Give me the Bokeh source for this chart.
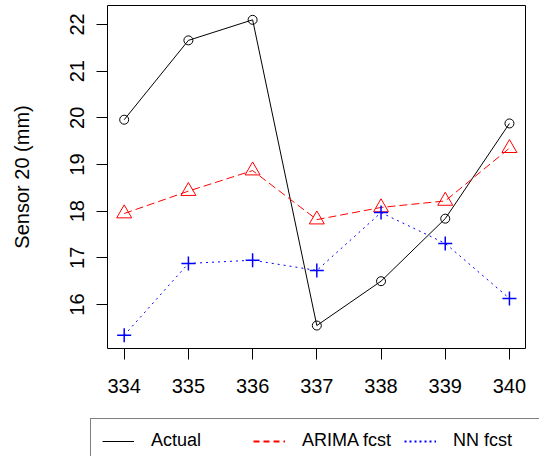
from bokeh.plotting import figure
from bokeh.layouts import column, row
from bokeh.models import Range1d, FixedTicker, Legend, LegendItem
from bokeh.embed import file_html
from bokeh.resources import INLINE

# ---- data ----
periods = [334, 335, 336, 337, 338, 339, 340]
actual = [19.96, 21.66, 22.10, 15.55, 16.50, 17.84, 19.88]
arima_fcst = [17.95, 18.43, 18.87, 17.82, 18.08, 18.22, 19.35]
nn_fcst = [15.34, 16.88, 16.95, 16.73, 17.97, 17.31, 16.13]
y_ticks = [16, 17, 18, 19, 20, 21, 22]
series_names = ["Actual", "ARIMA fcst", "NN fcst"]

FONT = "Liberation Sans"
RED = "#FF0000"
BLUE = "#0000FF"

main = figure(width=539, height=416, output_backend="svg", toolbar_location=None,
              x_range=Range1d(333.74, 340.25), y_range=Range1d(15.058, 22.407),
              min_border_left=107, min_border_right=14, min_border_top=5, min_border_bottom=68)
main.background_fill_color = "white"
main.border_fill_color = "white"
main.outline_line_color = "black"
main.outline_line_width = 1
main.grid.visible = False

for ax in (main.xaxis[0], main.yaxis[0]):
    ax.axis_line_color = None
    ax.major_tick_in = 0
    ax.major_tick_out = 11
    ax.major_tick_line_color = "black"
    ax.minor_tick_line_color = None
    ax.major_label_text_font = FONT
    ax.major_label_text_font_size = "20px"
    ax.major_label_text_color = "black"

main.xaxis.ticker = FixedTicker(ticks=periods)
main.xaxis.major_label_standoff = 19
main.yaxis.ticker = FixedTicker(ticks=y_ticks)
main.yaxis.major_label_orientation = "vertical"
main.yaxis.major_label_standoff = 12
main.yaxis.axis_label = "Sensor 20 (mm)"
main.yaxis.axis_label_text_font = FONT
main.yaxis.axis_label_text_font_size = "20px"
main.yaxis.axis_label_text_font_style = "normal"
main.yaxis.axis_label_text_color = "black"
main.yaxis.axis_label_standoff = 35

main.line(periods, actual, line_color="black", line_width=1)
main.scatter(periods, actual, marker="circle", size=9, fill_color=None, line_color="black", line_width=1)

main.line(periods, arima_fcst, line_color=RED, line_width=1, line_dash="8 4")
main.scatter(periods, arima_fcst, marker="triangle", size=15, fill_color=None, line_color=RED, line_width=1)

main.line(periods, nn_fcst, line_color=BLUE, line_width=1, line_dash="2 4")
main.scatter(periods, nn_fcst, marker="cross", size=14, line_color=BLUE, line_width=1.5)

# ---- legend strip below the plot ----
leg = figure(width=539, height=40, output_backend="svg", toolbar_location=None,
             x_range=Range1d(0, 1), y_range=Range1d(0, 1),
             x_axis_type=None, y_axis_type=None,
             min_border_left=0, min_border_right=0, min_border_top=0, min_border_bottom=0)
leg.grid.visible = False
leg.outline_line_color = None
leg.background_fill_color = "white"
leg.border_fill_color = "white"

# legend-only renderers (their points lie outside the strip's range)
r1 = leg.line(x=[5, 6], y=[5, 6], line_color="black", line_alpha=1.0, line_width=1)
r2 = leg.line(x=[5, 6], y=[5, 6], line_color=RED, line_alpha=1.0, line_width=2, line_dash="6 4")
r3 = leg.line(x=[5, 6], y=[5, 6], line_color=BLUE, line_alpha=1.0, line_width=2, line_dash="2 3")

legend = Legend(items=[LegendItem(label=series_names[0], renderers=[r1]),
                       LegendItem(label=series_names[1], renderers=[r2]),
                       LegendItem(label=series_names[2], renderers=[r3])],
                orientation="horizontal", location=(90, -7),
                padding=11, spacing=0, glyph_width=32, glyph_height=18,
                label_width=102, label_height=18, label_standoff=17,
                label_text_font=FONT, label_text_font_size="18px", label_text_color="black",
                border_line_color="black", border_line_width=1,
                background_fill_color="white", background_fill_alpha=1.0)
leg.add_layout(legend, "center")

layout = column(main, row(leg), spacing=0)

open("out.html", "w").write(file_html(layout, INLINE))
